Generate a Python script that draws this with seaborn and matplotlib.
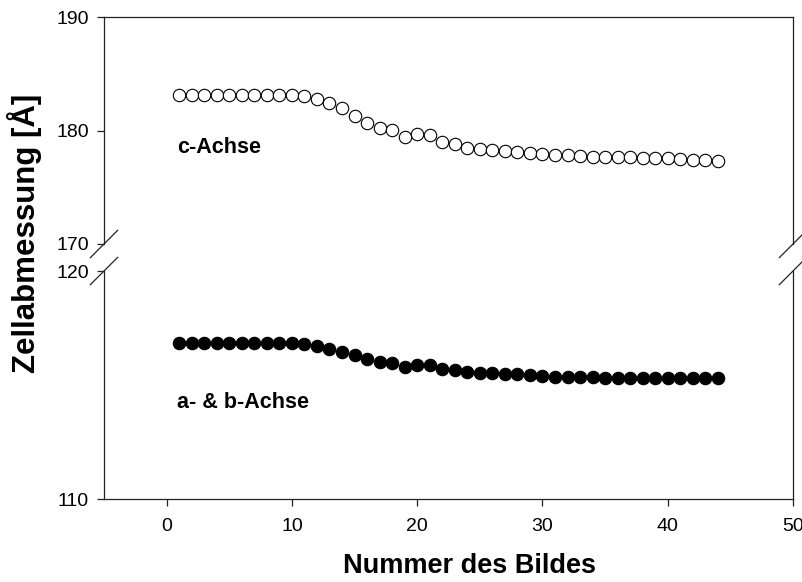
import matplotlib
matplotlib.use("Agg")
import matplotlib.pyplot as plt
import seaborn as sns
import pandas as pd

# ---- data ----
bild = list(range(1, 45))
c_achse = [183.1, 183.1, 183.1, 183.1, 183.1, 183.1, 183.1, 183.1, 183.1, 183.1,
           183.05, 182.8, 182.4, 182.0, 181.3, 180.65, 180.2, 180.05, 179.45, 179.7,
           179.6, 179.0, 178.85, 178.45, 178.4, 178.25, 178.15, 178.1, 178.05, 177.9,
           177.85, 177.8, 177.75, 177.7, 177.7, 177.65, 177.65, 177.6, 177.55, 177.55,
           177.45, 177.4, 177.4, 177.35]
ab_achse = [116.85, 116.85, 116.85, 116.85, 116.85, 116.85, 116.85, 116.85, 116.85, 116.85,
            116.82, 116.72, 116.6, 116.46, 116.3, 116.15, 116.03, 115.95, 115.8, 115.87,
            115.87, 115.69, 115.66, 115.58, 115.54, 115.53, 115.49, 115.47, 115.44, 115.4,
            115.37, 115.36, 115.34, 115.33, 115.32, 115.32, 115.31, 115.31, 115.3, 115.3,
            115.29, 115.29, 115.29, 115.29]
xticks = [0, 10, 20, 30, 40, 50]
top_yticks = [170, 180, 190]
bottom_yticks = [110, 120]
label_c = "c-Achse"
label_ab = "a- & b-Achse"
xlabel = "Nummer des Bildes"
ylabel = "Zellabmessung [Å]"

df = pd.DataFrame({"bild": bild, "c": c_achse, "ab": ab_achse})

sns.set_style("ticks")
plt.rcParams["font.family"] = ["Liberation Sans", "DejaVu Sans"]
plt.rcParams["text.color"] = "black"
plt.rcParams["axes.labelcolor"] = "black"

W, H = 803, 582
fig = plt.figure(figsize=(W / 100, H / 100), dpi=100)
L, R = 104, 793
ax_top = fig.add_axes([L / W, 1 - 244 / H, (R - L) / W, 227 / H])
ax_bot = fig.add_axes([L / W, 1 - 499 / H, (R - L) / W, 228 / H])

sns.scatterplot(data=df, x="bild", y="c", ax=ax_top, s=80, marker="o",
                facecolor="white", edgecolor="black", linewidth=0.8, zorder=3)
sns.scatterplot(data=df, x="bild", y="ab", ax=ax_bot, s=80, marker="o",
                color="black", edgecolor="black", linewidth=0.8, zorder=3)

for ax in (ax_top, ax_bot):
    ax.set_xlim(-5, 50)
    ax.set_xlabel("")
    ax.set_ylabel("")
    for sp in ax.spines.values():
        sp.set_linewidth(0.9)
        sp.set_color("#222222")
    ax.tick_params(axis="both", direction="out", length=5, width=0.9,
                   colors="#222222", labelcolor="black", labelsize=14, pad=6)

ax_top.set_ylim(170, 190)
ax_top.set_yticks(top_yticks)
ax_top.spines["bottom"].set_visible(False)
ax_top.tick_params(axis="x", bottom=False, labelbottom=False)

ax_bot.set_ylim(110, 120)
ax_bot.set_yticks(bottom_yticks)
ax_bot.spines["top"].set_visible(False)
ax_bot.set_xticks(xticks)
ax_bot.tick_params(axis="x", pad=9)

# annotations
ax_top.text(0.8, 178.0, label_c, fontsize=15.5, fontweight="bold", ha="left", va="baseline")
ax_bot.text(0.8, 114.0, label_ab, fontsize=15.5, fontweight="bold", ha="left", va="baseline")

# axis labels
ax_bot.set_xlabel(xlabel, fontsize=19.5, fontweight="bold")
ax_bot.xaxis.set_label_coords((470 - L) / (R - L), (499 - 553) / 228)
fig.text(25 / W, 1 - 233 / H, ylabel, rotation=90, fontsize=22.5, fontweight="bold",
         ha="center", va="center")

# break marks
dpx = 13.8
for ax, yc in ((ax_top, 0.0), (ax_bot, 1.0)):
    bb = ax.get_position()
    dx = dpx / (bb.width * W)
    dy = dpx / (bb.height * H)
    for xc in (0.0, 1.0):
        ax.plot([xc - dx, xc + dx], [yc - dy, yc + dy], transform=ax.transAxes,
                color="#222222", lw=0.9, clip_on=False)

fig.savefig("out.png", dpi=100)
